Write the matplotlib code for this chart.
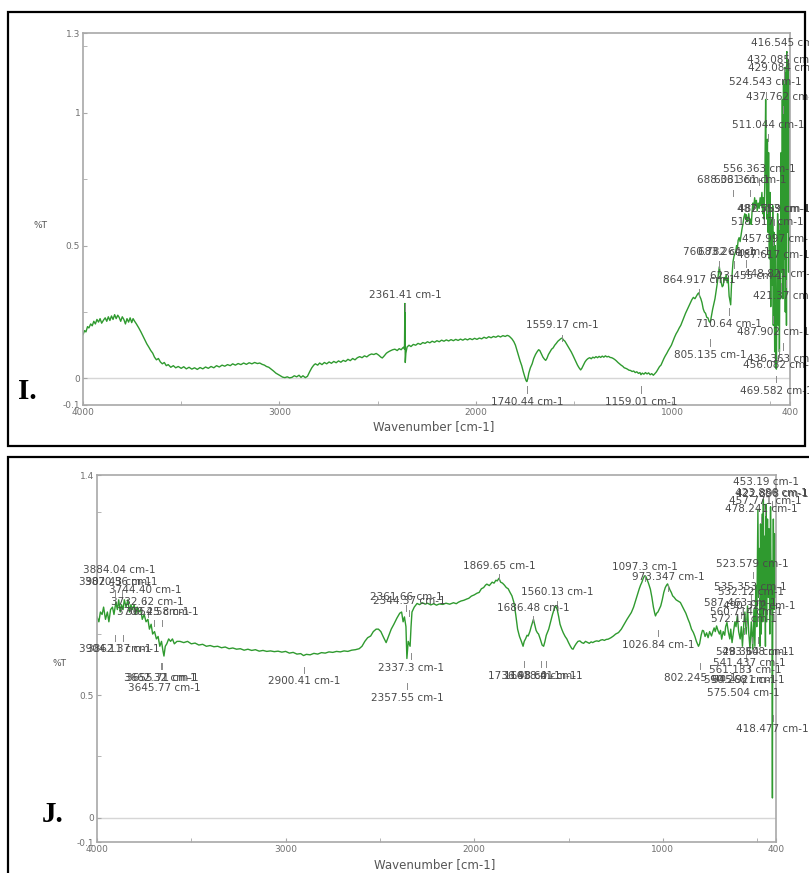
import matplotlib
matplotlib.use("Agg")
import matplotlib.pyplot as plt
from matplotlib.patches import Rectangle
import numpy as np

# ---- panel I spectrum (wavenumber, %T) ----
wn_i = [4000, 3992, 3985, 3977, 3970, 3961, 3953, 3945, 3937, 3929, 3921, 3913, 3905, 3895, 3887,
        3879, 3871, 3863, 3855, 3847, 3839, 3831, 3823, 3816, 3808, 3800, 3792, 3784, 3776, 3768,
        3760, 3752, 3745, 3737, 3728, 3716, 3705, 3695, 3685, 3675, 3665, 3655, 3645, 3636, 3626,
        3616, 3606, 3596, 3586, 3576, 3566, 3553, 3540, 3528, 3515, 3500, 3487, 3474, 3460, 3446,
        3432, 3418, 3404, 3390, 3376, 3362, 3348, 3334, 3320, 3306, 3292, 3278, 3264, 3250, 3238,
        3224, 3210, 3196, 3182, 3168, 3154, 3140, 3126, 3112, 3100, 3088, 3076, 3066, 3054, 3042,
        3030, 3018, 3006, 2995, 2984, 2972, 2960, 2948, 2936, 2924, 2912, 2900, 2890, 2880, 2868,
        2857, 2846, 2835, 2825, 2817, 2805, 2795, 2783, 2771, 2759, 2747, 2735, 2723, 2711, 2699,
        2687, 2675, 2663, 2651, 2639, 2627, 2615, 2603, 2591, 2579, 2567, 2555, 2543, 2531, 2519,
        2507, 2495, 2483, 2476, 2466, 2455, 2445, 2435, 2423, 2412, 2400, 2390, 2380, 2372, 2366,
        2363, 2361, 2359, 2356, 2350, 2340, 2330, 2318, 2306, 2294, 2282, 2270, 2258, 2246, 2234,
        2222, 2210, 2198, 2186, 2174, 2162, 2150, 2138, 2126, 2114, 2102, 2090, 2078, 2066, 2054,
        2042, 2030, 2018, 2006, 1994, 1982, 1970, 1958, 1946, 1934, 1922, 1910, 1898, 1886, 1874,
        1862, 1850, 1840, 1832, 1824, 1815, 1806, 1798, 1790, 1782, 1774, 1766, 1758, 1750, 1744,
        1740, 1735, 1730, 1722, 1713, 1705, 1696, 1688, 1680, 1674, 1666, 1658, 1650, 1644, 1638,
        1630, 1622, 1614, 1606, 1598, 1590, 1582, 1574, 1566, 1560, 1554, 1546, 1538, 1530, 1522,
        1514, 1506, 1498, 1490, 1482, 1474, 1466, 1460, 1452, 1444, 1436, 1428, 1420, 1412, 1404,
        1396, 1388, 1380, 1372, 1364, 1356, 1348, 1340, 1332, 1324, 1316, 1308, 1300, 1292, 1284,
        1276, 1268, 1260, 1252, 1244, 1236, 1228, 1220, 1212, 1204, 1196, 1188, 1180, 1172, 1164,
        1159, 1152, 1144, 1136, 1128, 1120, 1112, 1104, 1096, 1088, 1080, 1072, 1064, 1057, 1050,
        1042, 1035, 1027, 1020, 1012, 1004, 996, 988, 980, 972, 964, 956, 948, 940, 932,
        924, 916, 908, 900, 892, 884, 876, 870, 865, 860, 854, 848, 842, 836, 830,
        824, 818, 812, 806, 800, 794, 788, 782, 776, 770, 765, 760, 756, 750, 745,
        740, 735, 730, 725, 720, 715, 710, 705, 702, 698, 694, 690, 685, 680, 676,
        672, 668, 664, 659, 654, 649, 645, 640, 635, 630, 626, 623, 619, 615, 610,
        605, 600, 597, 593, 589, 585, 580, 576, 571, 567, 562, 557, 552, 548, 543,
        539, 536, 532, 528, 524, 521, 518, 515, 512, 509, 505, 502, 498, 495, 491,
        488, 485, 482, 478, 475, 472, 469, 466, 463, 460, 457, 454, 451, 448, 445,
        442, 439, 436, 433, 430, 427, 424, 421, 418, 416, 413, 410, 407, 404, 401, 400]
t_i = [0.165, 0.18, 0.175, 0.195, 0.19, 0.205, 0.198, 0.215, 0.205, 0.222, 0.212, 0.225, 0.208, 0.22, 0.228,
       0.215, 0.232, 0.218, 0.235, 0.222, 0.24, 0.225, 0.238, 0.23, 0.215, 0.232, 0.222, 0.205, 0.225, 0.212,
       0.228, 0.21, 0.225, 0.215, 0.205, 0.19, 0.175, 0.16, 0.145, 0.13, 0.118, 0.105, 0.095, 0.08, 0.07,
       0.075, 0.062, 0.055, 0.06, 0.048, 0.052, 0.042, 0.048, 0.04, 0.045, 0.038, 0.044, 0.036, 0.042, 0.035,
       0.04, 0.034, 0.041, 0.036, 0.043, 0.038, 0.045, 0.04, 0.048, 0.043, 0.05, 0.046, 0.052, 0.048, 0.055,
       0.05, 0.056, 0.052, 0.058, 0.053, 0.059, 0.055, 0.06, 0.056, 0.058, 0.053, 0.05, 0.045, 0.042, 0.035,
       0.028, 0.02, 0.015, 0.01, 0.005, 0.003, 0.006, 0.002, 0.004, 0.01, 0.006, 0.012, 0.004, 0.01, 0.003,
       0.008, 0.025, 0.04, 0.05, 0.055, 0.05, 0.058, 0.052, 0.06, 0.055, 0.062, 0.057, 0.064, 0.059, 0.066,
       0.061, 0.068, 0.064, 0.072, 0.067, 0.075, 0.07, 0.078, 0.082, 0.078, 0.085, 0.081, 0.088, 0.092, 0.09,
       0.094, 0.088, 0.08, 0.077, 0.085, 0.095, 0.1, 0.104, 0.108, 0.11, 0.105, 0.112, 0.108, 0.115, 0.118,
       0.11, 0.282, 0.06, 0.095, 0.118, 0.125, 0.12, 0.128, 0.125, 0.132, 0.128, 0.135, 0.132, 0.138, 0.134,
       0.14, 0.136, 0.142, 0.138, 0.144, 0.14, 0.145, 0.141, 0.146, 0.142, 0.147, 0.143, 0.148, 0.144, 0.149,
       0.145, 0.15, 0.146, 0.151, 0.147, 0.152, 0.149, 0.155, 0.151, 0.157, 0.153, 0.158, 0.155, 0.16, 0.156,
       0.161, 0.158, 0.162, 0.16, 0.155, 0.148, 0.138, 0.125, 0.105, 0.085, 0.065, 0.048, 0.025, 0.005, -0.008,
       -0.012, 0.0, 0.02, 0.04, 0.055, 0.075, 0.09, 0.1, 0.108, 0.105, 0.092, 0.08, 0.072, 0.068, 0.075,
       0.09, 0.1, 0.11, 0.115, 0.125, 0.132, 0.14, 0.145, 0.15, 0.152, 0.145, 0.14, 0.13, 0.12, 0.11,
       0.1, 0.088, 0.075, 0.062, 0.05, 0.04, 0.032, 0.038, 0.05, 0.062, 0.07, 0.075, 0.078, 0.074, 0.08,
       0.077, 0.082, 0.078, 0.083, 0.079, 0.084, 0.08, 0.085, 0.081, 0.083, 0.079, 0.078, 0.075, 0.071, 0.066,
       0.06, 0.055, 0.05, 0.046, 0.04, 0.038, 0.035, 0.031, 0.03, 0.026, 0.028, 0.022, 0.025, 0.019, 0.022,
       0.014, 0.02, 0.016, 0.022, 0.017, 0.021, 0.014, 0.018, 0.012, 0.018, 0.025, 0.035, 0.045, 0.05, 0.062,
       0.075, 0.085, 0.095, 0.105, 0.115, 0.125, 0.14, 0.155, 0.168, 0.178, 0.19, 0.2, 0.215, 0.23, 0.245,
       0.258, 0.27, 0.285, 0.296, 0.305, 0.3, 0.31, 0.318, 0.322, 0.31, 0.3, 0.285, 0.262, 0.25, 0.245,
       0.23, 0.228, 0.215, 0.21, 0.235, 0.26, 0.28, 0.3, 0.33, 0.36, 0.39, 0.42, 0.40, 0.36, 0.345,
       0.35, 0.38, 0.37, 0.39, 0.36, 0.378, 0.31, 0.29, 0.277, 0.35, 0.40, 0.44, 0.46, 0.47, 0.48,
       0.50, 0.49, 0.52, 0.53, 0.515, 0.54, 0.56, 0.58, 0.605, 0.62, 0.60, 0.616, 0.59, 0.60, 0.62,
       0.58, 0.60, 0.58, 0.63, 0.66, 0.64, 0.68, 0.65, 0.67, 0.63, 0.66, 0.64, 0.68, 0.65, 0.70,
       0.62, 0.68, 0.60, 0.75, 1.05, 0.80, 0.60, 0.90, 0.55, 0.85, 0.45, 0.70, 0.27, 0.60, 0.35,
       0.65, 0.20, 0.55, 0.10, 0.50, 0.04, 0.035, 0.45, 0.62, 0.20, 0.58, 0.10, 0.50, 0.30, 0.85,
       0.40, 1.05, 0.30, 1.12, 0.45, 1.17, 0.25, 1.15, 0.20, 1.23, 0.55, 1.20, 0.40, 1.12, 0.60, 0.85]

# ---- panel J spectrum ----
wn_j = [4000, 3990, 3982, 3973, 3965, 3955, 3945, 3937, 3928, 3918, 3910, 3900, 3892, 3885, 3877,
        3870, 3862, 3855, 3846, 3836, 3828, 3820, 3812, 3803, 3795, 3787, 3778, 3768, 3760, 3750,
        3740, 3730, 3722, 3713, 3705, 3695, 3685, 3676, 3667, 3658, 3650, 3645, 3638, 3630, 3620,
        3610, 3600, 3590, 3576, 3560, 3540, 3520, 3500, 3480, 3460, 3440, 3420, 3400, 3380, 3360,
        3340, 3320, 3300, 3280, 3260, 3240, 3220, 3200, 3180, 3160, 3140, 3120, 3100, 3080, 3060,
        3040, 3020, 3000, 2980, 2960, 2940, 2920, 2905, 2890, 2870, 2850, 2830, 2810, 2790, 2770,
        2750, 2730, 2710, 2690, 2670, 2650, 2630, 2610, 2595, 2580, 2565, 2549, 2535, 2520, 2508,
        2495, 2480, 2467, 2455, 2440, 2426, 2410, 2395, 2385, 2377, 2370, 2362, 2357, 2350, 2340,
        2335, 2330, 2318, 2303, 2290, 2275, 2260, 2248, 2230, 2215, 2200, 2185, 2166, 2150, 2130,
        2110, 2095, 2084, 2070, 2055, 2040, 2029, 2015, 2000, 1985, 1974, 1962, 1950, 1940, 1933,
        1920, 1905, 1895, 1885, 1878, 1869, 1860, 1850, 1840, 1830, 1820, 1810, 1800, 1790, 1780,
        1770, 1760, 1750, 1741, 1735, 1728, 1720, 1714, 1705, 1698, 1690, 1686, 1680, 1672, 1665,
        1659, 1650, 1640, 1632, 1625, 1618, 1610, 1605, 1595, 1585, 1575, 1569, 1560, 1552, 1545,
        1536, 1528, 1518, 1509, 1500, 1490, 1482, 1476, 1468, 1460, 1450, 1440, 1430, 1420, 1410,
        1400, 1390, 1380, 1372, 1360, 1350, 1340, 1330, 1320, 1310, 1300, 1290, 1275, 1262, 1250,
        1235, 1220, 1205, 1190, 1178, 1167, 1155, 1145, 1135, 1125, 1118, 1112, 1105, 1097, 1090,
        1082, 1075, 1066, 1058, 1050, 1043, 1039, 1033, 1026, 1020, 1011, 1003, 995, 987, 980,
        975, 970, 962, 955, 948, 940, 930, 920, 907, 898, 888, 878, 866, 858, 848,
        838, 830, 822, 811, 805, 797, 790, 784, 776, 768, 760, 752, 742, 735, 728,
        722, 715, 708, 700, 694, 688, 680, 672, 667, 660, 653, 645, 640, 633, 625,
        618, 612, 605, 598, 590, 584, 578, 571, 565, 558, 551, 545, 538, 531, 523,
        517, 512, 507, 502, 496, 492, 488, 485, 482, 478, 474, 470, 467, 463, 460,
        456, 453, 449, 445, 441, 437, 433, 429, 425, 422, 419, 417, 414, 410, 406, 403, 400]
t_j = [0.82, 0.80, 0.84, 0.83, 0.86, 0.81, 0.84, 0.80, 0.85, 0.86, 0.83, 0.88, 0.85, 0.89, 0.84,
       0.87, 0.85, 0.89, 0.86, 0.89, 0.84, 0.87, 0.85, 0.87, 0.83, 0.86, 0.84, 0.85, 0.81, 0.83,
       0.80, 0.81, 0.77, 0.79, 0.75, 0.76, 0.73, 0.74, 0.70, 0.72, 0.68, 0.66, 0.70, 0.71, 0.73,
       0.72, 0.73, 0.71, 0.72, 0.72, 0.715, 0.72, 0.71, 0.713, 0.705, 0.708, 0.70, 0.703, 0.698, 0.70,
       0.694, 0.697, 0.69, 0.693, 0.688, 0.69, 0.684, 0.688, 0.683, 0.686, 0.68, 0.683, 0.679, 0.681, 0.678,
       0.68, 0.676, 0.679, 0.672, 0.675, 0.668, 0.67, 0.662, 0.667, 0.665, 0.671, 0.668, 0.674, 0.672, 0.677,
       0.675, 0.679, 0.677, 0.681, 0.679, 0.684, 0.686, 0.69, 0.70, 0.72, 0.735, 0.742, 0.76, 0.77, 0.77,
       0.76, 0.735, 0.715, 0.74, 0.77, 0.79, 0.815, 0.835, 0.84, 0.80, 0.82, 0.78, 0.65, 0.72, 0.70,
       0.78, 0.84, 0.86, 0.875, 0.87, 0.878, 0.872, 0.876, 0.869, 0.874, 0.868, 0.873, 0.871, 0.876, 0.872,
       0.878, 0.874, 0.88, 0.885, 0.888, 0.893, 0.896, 0.905, 0.91, 0.917, 0.92, 0.935, 0.94, 0.95, 0.954,
       0.948, 0.962, 0.958, 0.97, 0.967, 0.978, 0.962, 0.958, 0.95, 0.94, 0.935, 0.92, 0.906, 0.88, 0.83,
       0.77, 0.74, 0.72, 0.70, 0.72, 0.73, 0.745, 0.742, 0.76, 0.78, 0.80, 0.81, 0.79, 0.765, 0.755,
       0.75, 0.73, 0.705, 0.70, 0.72, 0.745, 0.76, 0.77, 0.80, 0.83, 0.855, 0.865, 0.85, 0.82, 0.79,
       0.77, 0.755, 0.74, 0.73, 0.715, 0.70, 0.69, 0.688, 0.70, 0.71, 0.72, 0.722, 0.715, 0.712, 0.72,
       0.716, 0.712, 0.718, 0.715, 0.72, 0.722, 0.72, 0.725, 0.727, 0.724, 0.728, 0.729, 0.735, 0.742, 0.75,
       0.756, 0.77, 0.79, 0.81, 0.825, 0.838, 0.86, 0.885, 0.91, 0.935, 0.95, 0.96, 0.975, 0.988, 0.985,
       0.97, 0.955, 0.933, 0.90, 0.86, 0.835, 0.824, 0.835, 0.84, 0.85, 0.865, 0.89, 0.92, 0.94, 0.95,
       0.955, 0.945, 0.93, 0.92, 0.906, 0.90, 0.89, 0.885, 0.879, 0.865, 0.85, 0.835, 0.81, 0.795, 0.77,
       0.756, 0.74, 0.72, 0.70, 0.71, 0.745, 0.765, 0.763, 0.74, 0.755, 0.735, 0.76, 0.742, 0.76, 0.775,
       0.76, 0.783, 0.765, 0.75, 0.765, 0.729, 0.76, 0.745, 0.78, 0.797, 0.76, 0.73, 0.77, 0.715, 0.76,
       0.80, 0.78, 0.824, 0.76, 0.73, 0.78, 0.70, 0.79, 0.84, 0.75, 0.865, 0.76, 0.69, 0.80, 0.688,
       0.85, 0.70, 0.95, 0.78, 1.26, 0.90, 1.10, 0.70, 1.20, 0.75, 1.24, 0.80, 1.30, 0.85, 1.15,
       0.70, 1.28, 0.80, 1.22, 0.90, 1.18, 0.75, 1.27, 0.85, 1.05, 0.08, 0.95, 1.22, 0.85, 1.16, 0.90, 1.12]

# ---- peak labels: text, wavenumber, %T of the label ----
lab_i = ["416.545 cm-1", "432.085 cm-1", "429.084 cm-1", "524.543 cm-1", "437.762 cm-1",
         "511.044 cm-1", "556.363 cm-1", "688.361 cm-1", "603.361 cm-1", "482.769 cm-1",
         "487.553 cm-1", "518.917 cm-1", "457.997 cm-1", "760.782 cm-1", "683.264 cm-1",
         "487.617 cm-1", "448.821 cm-1", "623.455 cm-1", "864.917 cm-1", "421.37 cm-1",
         "710.64 cm-1", "487.902 cm-1", "805.135 cm-1", "436.363 cm-1", "456.082 cm-1",
         "469.582 cm-1", "2361.41 cm-1", "1559.17 cm-1", "1740.44 cm-1", "1159.01 cm-1"]
lab_i_wn = [416, 432, 429, 524, 437, 511, 556, 688, 603, 482, 487, 518, 457, 760, 683,
            487, 448, 623, 864, 421, 710, 487, 805, 436, 456, 469, 2361, 1559, 1740, 1159]
lab_i_t = [1.261, 1.20, 1.17, 1.114, 1.06, 0.955, 0.788, 0.746, 0.746, 0.636,
           0.636, 0.587, 0.526, 0.477, 0.477, 0.466, 0.394, 0.386, 0.371, 0.31,
           0.205, 0.174, 0.087, 0.072, 0.049, -0.049, 0.314, 0.20, -0.09, -0.09]

lab_j = ["3884.04 cm-1", "3902.43 cm-1", "3870.56 cm-1", "3744.40 cm-1", "3732.62 cm-1",
         "3700.25 cm-1", "3654.58 cm-1", "3904.11 cm-1", "3862.37 cm-1", "3662.32 cm-1",
         "3655.71 cm-1", "3645.77 cm-1", "2900.41 cm-1", "2337.3 cm-1", "2357.55 cm-1",
         "2361.66 cm-1", "2344.37 cm-1", "1869.65 cm-1", "1560.13 cm-1", "1686.48 cm-1",
         "1736.93 cm-1", "1648.60 cm-1", "1618.41 cm-1", "1097.3 cm-1", "973.347 cm-1",
         "1026.84 cm-1", "802.245 cm-1", "453.19 cm-1", "423.886 cm-1", "422.898 cm-1",
         "457.771 cm-1", "478.241 cm-1", "523.579 cm-1", "535.353 cm-1", "532.12 cm-1",
         "587.463 cm-1", "490.322 cm-1", "560.714 cm-1", "572.11 cm-1", "528.364 cm-1",
         "493.508 cm-1", "541.437 cm-1", "561.133 cm-1", "590.268 cm-1", "545.921 cm-1",
         "575.504 cm-1", "418.477 cm-1"]
lab_j_wn = [3884, 3902, 3870, 3744, 3732, 3700, 3654, 3904, 3862, 3662,
            3655, 3645, 2900, 2337, 2357, 2361, 2344, 1869, 1560, 1686,
            1736, 1648, 1618, 1097, 973, 1026, 802, 453, 423, 422,
            457, 478, 523, 535, 532, 587, 490, 560, 572, 528,
            493, 541, 561, 590, 545, 575, 418]
lab_j_t = [1.013, 0.964, 0.964, 0.932, 0.879, 0.842, 0.842, 0.687, 0.687, 0.572,
           0.572, 0.531, 0.556, 0.613, 0.49, 0.903, 0.883, 1.03, 0.92, 0.858,
           0.58, 0.58, 0.58, 1.026, 0.985, 0.707, 0.572, 1.373, 1.328, 1.322,
           1.295, 1.263, 1.038, 0.944, 0.92, 0.875, 0.865, 0.842, 0.81, 0.678,
           0.678, 0.633, 0.605, 0.564, 0.564, 0.511, 0.36]

GREEN = "#2f9a2f"
AXGRAY = "#a8a8a8"
TXTGRAY = "#4a4a4a"

plt.rcParams['font.family'] = ['DejaVu Sans']

fig = plt.figure(figsize=(8.09, 8.73), dpi=100)
W, H = 809.0, 873.0


def px_axes(left, top, right, bottom):
    return fig.add_axes([left / W, 1 - bottom / H, (right - left) / W, (bottom - top) / H])


def draw_panel(ax, wn, t, ymax, ylabels, labels, lab_wn, lab_t):
    ax.plot(wn, t, color=GREEN, lw=1.0)
    ax.axhline(0, color="#d6d6d6", lw=1.0, zorder=0)
    ax.set_xlim(4000, 400)
    ax.set_ylim(-0.1, ymax)
    ax.set_xticks([4000, 3000, 2000, 1000, 400])
    ax.set_xticks([3500, 2500, 1500, 500], minor=True)
    ax.set_xticklabels(["4000", "3000", "2000", "1000", "400"])
    ax.set_yticks([v for v, s in ylabels])
    ax.set_yticklabels([s for v, s in ylabels])
    ax.set_yticks([0.25, 0.75, 1.25], minor=True)
    ax.tick_params(which="both", direction="in", length=3, color=AXGRAY,
                   labelsize=6.5, labelcolor="#707070", pad=2)
    for s in ax.spines.values():
        s.set_color(AXGRAY)
        s.set_linewidth(1.2)
    # peak labels with their small marker ticks
    curve = np.interp(lab_wn, wn[::-1], t[::-1])
    for txt, w, y, c in zip(labels, lab_wn, lab_t, curve):
        ax.text(w, y, txt, fontsize=7.5, color=TXTGRAY, ha="center", va="center")
        d = -1 if y > c else 1
        ax.plot([w, w], [y + d * 0.035, y + d * 0.06], color="#8a8a8a", lw=0.7)


# panel I
ax1 = px_axes(83, 33, 790, 405)
draw_panel(ax1, wn_i, t_i, 1.3, [(1.3, "1.3"), (1.0, "1"), (0.5, "0.5"), (0, "0"), (-0.1, "-0.1")],
           lab_i, lab_i_wn, lab_i_t)
fig.text(41 / W, 1 - 225 / H, "%T", fontsize=6.5, color="#555555", ha="center", va="center")
fig.text(434 / W, 1 - 427 / H, "Wavenumber [cm-1]", fontsize=8.5, color="#555555",
         ha="center", va="center")
fig.text(18 / W, 1 - 392 / H, "I.", fontsize=21, fontweight="bold", family="Liberation Serif",
         color="black", va="center")

# panel J
ax2 = px_axes(97, 475, 776, 842)
draw_panel(ax2, wn_j, t_j, 1.4, [(1.4, "1.4"), (0.5, "0.5"), (0, "0"), (-0.1, "-0.1")],
           lab_j, lab_j_wn, lab_j_t)
fig.text(60 / W, 1 - 663 / H, "%T", fontsize=6.5, color="#555555", ha="center", va="center")
fig.text(435 / W, 1 - 865 / H, "Wavenumber [cm-1]", fontsize=8.5, color="#555555",
         ha="center", va="center")
fig.text(42 / W, 1 - 814 / H, "J.", fontsize=21, fontweight="bold", family="Liberation Serif",
         color="black", va="center")

# black frames around the two panels
fig.patches.append(Rectangle((8 / W, 1 - 446 / H), 797 / W, 434 / H, transform=fig.transFigure,
                             fill=False, edgecolor="black", lw=1.6))
fig.patches.append(Rectangle((8 / W, -0.2), 1.2, 0.2 + 1 - 457 / H, transform=fig.transFigure,
                             fill=False, edgecolor="black", lw=1.6))

fig.savefig("out.png", dpi=100)
